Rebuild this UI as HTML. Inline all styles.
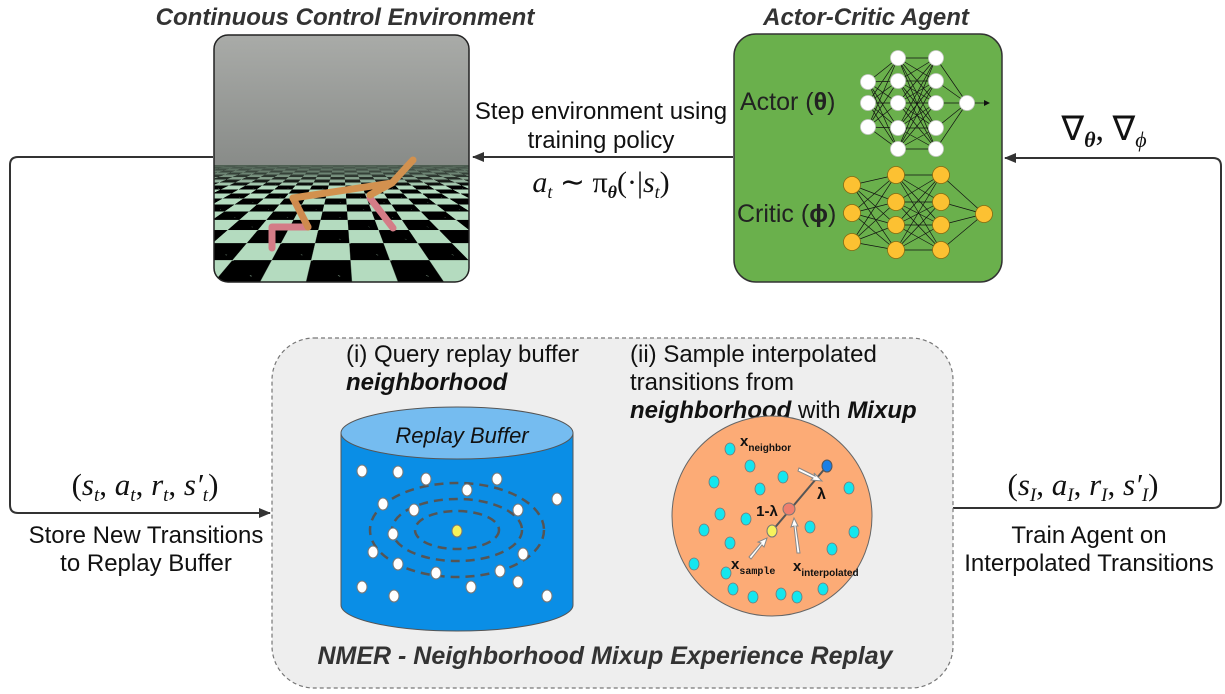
<!DOCTYPE html>
<html><head><meta charset="utf-8">
<style>
html,body{margin:0;padding:0;background:#fff;}
#wrap{position:relative;width:1225px;height:694px;overflow:hidden;font-family:"Liberation Sans",sans-serif;}
#env{position:absolute;left:214px;top:35px;width:255px;height:247px;border-radius:14px;overflow:hidden;background:linear-gradient(#a9aba8,#8a8d8a 50%,#6d716d);}
#floor{position:absolute;left:0;top:130px;width:255px;height:117px;perspective:260px;perspective-origin:50% -25px;overflow:hidden;background:#4e5e52;}
#plane{position:absolute;left:-3000px;width:6255px;height:4000px;bottom:0;transform-origin:50% 100%;transform:rotateX(88deg);
background-color:#b4dbbf;background-image:linear-gradient(45deg,#000 25%,transparent 25%,transparent 75%,#000 75%),linear-gradient(45deg,#000 25%,transparent 25%,transparent 75%,#000 75%);background-size:92px 92px;background-position:10px 0,56px 46px;}
#haze{position:absolute;left:0;top:0;width:255px;height:22px;background:linear-gradient(#4e5e52,rgba(78,94,82,0.6) 50%,rgba(78,94,82,0));}
svg{position:absolute;left:0;top:0;}
</style></head><body>
<div id="wrap">
<div id="env"><div id="floor"><div id="plane"></div><div id="haze"></div></div></div>
<svg width="1225" height="694" viewBox="0 0 1225 694" xmlns="http://www.w3.org/2000/svg" font-family="Liberation Sans, sans-serif">
<defs>
<marker id="ah" markerWidth="12" markerHeight="10" refX="11" refY="5" orient="auto" markerUnits="userSpaceOnUse"><path d="M0,0 L12,5 L0,10 z" fill="#333"/></marker>
<marker id="sa" markerWidth="6" markerHeight="6" refX="5" refY="3" orient="auto" markerUnits="userSpaceOnUse"><path d="M0,0 L6,3 L0,6 z" fill="#111"/></marker>
</defs>
<rect x="214" y="35" width="255" height="247" rx="14" fill="none" stroke="#222" stroke-width="1.5"/>
<g stroke-linecap="round" stroke-linejoin="round" fill="none">
<path d="M308,227 L272,227 L272,248" stroke="#d47c87" stroke-width="7"/>
<path d="M370,198 L393,228" stroke="#d47c87" stroke-width="7"/>
<path d="M293,198 L308,227" stroke="#cf8a4e" stroke-width="7"/>
<path d="M293,198 L392,183 L413,160 M392,183 L370,195" stroke="#d2914f" stroke-width="7"/>
</g>
<text x="345" y="25" text-anchor="middle" font-size="24" font-weight="bold" font-style="italic" fill="#333">Continuous Control Environment</text>
<text x="866" y="25" text-anchor="middle" font-size="24" font-weight="bold" font-style="italic" fill="#333">Actor-Critic Agent</text>
<rect x="734" y="34" width="268" height="248" rx="22" fill="#6ab04c" stroke="#333" stroke-width="1.5"/>
<text x="740" y="110" font-size="25" fill="#222">Actor (<tspan font-weight="bold">θ</tspan>)</text>
<text x="737" y="222" font-size="25" fill="#222">Critic (<tspan font-weight="bold">ϕ</tspan>)</text>
<g stroke="#111" stroke-width="0.7">
<path d="M868,82 L898,58 M868,82 L898,81 M868,82 L898,103 M868,82 L898,128 M868,82 L898,149 M868,103 L898,58 M868,103 L898,81 M868,103 L898,103 M868,103 L898,128 M868,103 L898,149 M868,127 L898,58 M868,127 L898,81 M868,127 L898,103 M868,127 L898,128 M868,127 L898,149"/>
<path d="M898,58 L936,58 M898,58 L936,81 M898,58 L936,103 M898,58 L936,128 M898,58 L936,149 M898,81 L936,58 M898,81 L936,81 M898,81 L936,103 M898,81 L936,128 M898,81 L936,149 M898,103 L936,58 M898,103 L936,81 M898,103 L936,103 M898,103 L936,128 M898,103 L936,149 M898,128 L936,58 M898,128 L936,81 M898,128 L936,103 M898,128 L936,128 M898,128 L936,149 M898,149 L936,58 M898,149 L936,81 M898,149 L936,103 M898,149 L936,128 M898,149 L936,149"/>
<path d="M936,58 L967,103 M936,81 L967,103 M936,103 L967,103 M936,128 L967,103 M936,149 L967,103"/>
<path d="M967,103 L989,103" marker-end="url(#sa)"/>
<path d="M852,185 L896,175 M852,185 L896,202 M852,185 L896,225 M852,185 L896,250 M852,213 L896,175 M852,213 L896,202 M852,213 L896,225 M852,213 L896,250 M852,242 L896,175 M852,242 L896,202 M852,242 L896,225 M852,242 L896,250"/>
<path d="M896,175 L941,175 M896,175 L941,202 M896,175 L941,225 M896,175 L941,250 M896,202 L941,175 M896,202 L941,202 M896,202 L941,225 M896,202 L941,250 M896,225 L941,175 M896,225 L941,202 M896,225 L941,225 M896,225 L941,250 M896,250 L941,175 M896,250 L941,202 M896,250 L941,225 M896,250 L941,250"/>
<path d="M941,175 L984,214 M941,202 L984,214 M941,225 L984,214 M941,250 L984,214"/>
</g>
<g fill="#fff" stroke="#ccc" stroke-width="0.8">
<circle cx="868" cy="82" r="7.5"/><circle cx="868" cy="103" r="7.5"/><circle cx="868" cy="127" r="7.5"/>
<circle cx="898" cy="58" r="7.5"/><circle cx="898" cy="81" r="7.5"/><circle cx="898" cy="103" r="7.5"/><circle cx="898" cy="128" r="7.5"/><circle cx="898" cy="149" r="7.5"/>
<circle cx="936" cy="58" r="7.5"/><circle cx="936" cy="81" r="7.5"/><circle cx="936" cy="103" r="7.5"/><circle cx="936" cy="128" r="7.5"/><circle cx="936" cy="149" r="7.5"/>
<circle cx="967" cy="103" r="7.5"/>
</g>
<g fill="#fcc132" stroke="#8a6a10" stroke-width="0.8">
<circle cx="852" cy="185" r="8.5"/><circle cx="852" cy="213" r="8.5"/><circle cx="852" cy="242" r="8.5"/>
<circle cx="896" cy="175" r="8.5"/><circle cx="896" cy="202" r="8.5"/><circle cx="896" cy="225" r="8.5"/><circle cx="896" cy="250" r="8.5"/>
<circle cx="941" cy="175" r="8.5"/><circle cx="941" cy="202" r="8.5"/><circle cx="941" cy="225" r="8.5"/><circle cx="941" cy="250" r="8.5"/>
<circle cx="984" cy="214" r="8.5"/>
</g>
<g stroke="#333" stroke-width="2" fill="none">
<path d="M733,157 L473,157" marker-end="url(#ah)"/>
<path d="M213,157 L18,157 Q10,157 10,165 L10,505 Q10,513 18,513 L270,513" marker-end="url(#ah)"/>
<path d="M810,508 L1213,508 Q1221,508 1221,500 L1221,166 Q1221,158 1213,158 L1005,158" marker-end="url(#ah)"/>
<path d="M576,522 L664,522" marker-end="url(#ah)"/>
</g>
<text x="601" y="119" text-anchor="middle" font-size="24" fill="#111">Step environment using</text>
<text x="601" y="148" text-anchor="middle" font-size="24" fill="#111">training policy</text>
<text x="601" y="192" text-anchor="middle" font-size="30" font-family="Liberation Serif, serif" font-style="italic" fill="#111">a<tspan font-size="18" dy="6">t</tspan><tspan dy="-6" font-style="normal"> ∼ π</tspan><tspan font-size="18" dy="6" font-weight="bold">θ</tspan><tspan dy="-6" font-style="normal">(·|</tspan>s<tspan font-size="18" dy="6">t</tspan><tspan dy="-6" font-style="normal">)</tspan></text>
<text x="1104" y="140" text-anchor="middle" font-size="34" font-family="Liberation Serif, serif" fill="#111">∇<tspan font-size="22" dy="7" font-weight="bold" font-style="italic">θ</tspan><tspan dy="-7">, ∇</tspan><tspan font-size="22" dy="7" font-style="italic">ϕ</tspan></text>
<text x="145" y="495" text-anchor="middle" font-size="31" font-family="Liberation Serif, serif" fill="#111">(<tspan font-style="italic">s</tspan><tspan font-size="19" dy="6" font-style="italic">t</tspan><tspan dy="-6">, </tspan><tspan font-style="italic">a</tspan><tspan font-size="19" dy="6" font-style="italic">t</tspan><tspan dy="-6">, </tspan><tspan font-style="italic">r</tspan><tspan font-size="19" dy="6" font-style="italic">t</tspan><tspan dy="-6">, </tspan><tspan font-style="italic">s′</tspan><tspan font-size="19" dy="6" font-style="italic">t</tspan><tspan dy="-6">)</tspan></text>
<text x="146" y="543" text-anchor="middle" font-size="24" fill="#111">Store New Transitions</text>
<text x="146" y="571" text-anchor="middle" font-size="24" fill="#111">to Replay Buffer</text>
<text x="1083" y="495" text-anchor="middle" font-size="31" font-family="Liberation Serif, serif" fill="#111">(<tspan font-style="italic">s</tspan><tspan font-size="19" dy="6" font-style="italic">I</tspan><tspan dy="-6">, </tspan><tspan font-style="italic">a</tspan><tspan font-size="19" dy="6" font-style="italic">I</tspan><tspan dy="-6">, </tspan><tspan font-style="italic">r</tspan><tspan font-size="19" dy="6" font-style="italic">I</tspan><tspan dy="-6">, </tspan><tspan font-style="italic">s′</tspan><tspan font-size="19" dy="6" font-style="italic">I</tspan><tspan dy="-6">)</tspan></text>
<text x="1089" y="543" text-anchor="middle" font-size="24" fill="#111">Train Agent on</text>
<text x="1089" y="571" text-anchor="middle" font-size="24" fill="#111">Interpolated Transitions</text>
<rect x="272" y="338" width="681" height="350" rx="42" fill="#eeeeee" stroke="#777" stroke-width="1.2" stroke-dasharray="4,3"/>
<text x="346" y="362" font-size="24" fill="#111">(i) Query replay buffer</text>
<text x="346" y="390" font-size="24" font-weight="bold" font-style="italic" fill="#111">neighborhood</text>
<text x="630" y="362" font-size="24" fill="#111">(ii) Sample interpolated</text>
<text x="630" y="390" font-size="24" fill="#111">transitions from</text>
<text x="630" y="418" font-size="24" fill="#111"><tspan font-weight="bold" font-style="italic">neighborhood</tspan> with <tspan font-weight="bold" font-style="italic">Mixup</tspan></text>
<text x="605" y="664" text-anchor="middle" font-size="25" font-weight="bold" font-style="italic" fill="#333">NMER - Neighborhood Mixup Experience Replay</text>
<path d="M341,433 L341,605 A116,26 0 0 0 573,605 L573,433 Z" fill="#0a8ee6" stroke="#555" stroke-width="1"/>
<ellipse cx="457" cy="433" rx="116" ry="26" fill="#75bcf0" stroke="#555" stroke-width="1"/>
<text x="462" y="443" text-anchor="middle" font-size="22" font-style="italic" fill="#111">Replay Buffer</text>
<g fill="none" stroke="#555" stroke-width="2.5" stroke-dasharray="9,6">
<ellipse cx="457" cy="530" rx="42" ry="19"/>
<ellipse cx="457" cy="530" rx="65" ry="31"/>
<ellipse cx="457" cy="530" rx="87" ry="47"/>
</g>
<g fill="#fff" stroke="#777" stroke-width="1">
<ellipse cx="362" cy="471" rx="5" ry="6"/><ellipse cx="398" cy="472" rx="5" ry="6"/><ellipse cx="426" cy="479" rx="5" ry="6"/><ellipse cx="497" cy="479" rx="5" ry="6"/><ellipse cx="467" cy="490" rx="5" ry="6"/><ellipse cx="383" cy="504" rx="5" ry="6"/><ellipse cx="414" cy="510" rx="5" ry="6"/><ellipse cx="518" cy="510" rx="5" ry="6"/><ellipse cx="557" cy="499" rx="5" ry="6"/><ellipse cx="393" cy="534" rx="5" ry="6"/><ellipse cx="373" cy="552" rx="5" ry="6"/><ellipse cx="523" cy="554" rx="5" ry="6"/><ellipse cx="398" cy="564" rx="5" ry="6"/><ellipse cx="436" cy="573" rx="5" ry="6"/><ellipse cx="500" cy="571" rx="5" ry="6"/><ellipse cx="518" cy="582" rx="5" ry="6"/><ellipse cx="362" cy="587" rx="5" ry="6"/><ellipse cx="394" cy="596" rx="5" ry="6"/><ellipse cx="471" cy="587" rx="5" ry="6"/><ellipse cx="547" cy="596" rx="5" ry="6"/>
</g>
<ellipse cx="457" cy="531" rx="5" ry="6" fill="#f5f25a" stroke="#777"/>
<circle cx="772" cy="516" r="100" fill="#fcab76" stroke="#666" stroke-width="1"/>
<g fill="#14e6ee" stroke="#777" stroke-width="0.8">
<ellipse cx="730" cy="449" rx="5" ry="6"/><ellipse cx="750" cy="466" rx="5" ry="6"/><ellipse cx="714" cy="482" rx="5" ry="6"/><ellipse cx="783" cy="477" rx="5" ry="6"/><ellipse cx="760" cy="489" rx="5" ry="6"/><ellipse cx="849" cy="488" rx="5" ry="6"/><ellipse cx="720" cy="514" rx="5" ry="6"/><ellipse cx="746" cy="519" rx="5" ry="6"/><ellipse cx="704" cy="530" rx="5" ry="6"/><ellipse cx="730" cy="543" rx="5" ry="6"/><ellipse cx="810" cy="527" rx="5" ry="6"/><ellipse cx="854" cy="532" rx="5" ry="6"/><ellipse cx="832" cy="549" rx="5" ry="6"/><ellipse cx="694" cy="564" rx="5" ry="6"/><ellipse cx="726" cy="573" rx="5" ry="6"/><ellipse cx="733" cy="589" rx="5" ry="6"/><ellipse cx="753" cy="597" rx="5" ry="6"/><ellipse cx="781" cy="594" rx="5" ry="6"/><ellipse cx="797" cy="597" rx="5" ry="6"/><ellipse cx="823" cy="589" rx="5" ry="6"/>
</g>
<path d="M772,531 L827,466" stroke="#555" stroke-width="2"/>
<g fill="#fff" stroke="#888" stroke-width="1">
<path d="M799,468 L815,476 L814,473 L822,481 L811,480 L813,478 L798,471 Z"/>
<path d="M749,557 L761,543 L758,542 L767,538 L764,547 L762,545 L751,559 Z"/>
<path d="M797,553 L794,526 L791,527 L794,518 L798,526 L796,526 L800,553 Z"/>
</g>
<ellipse cx="827" cy="466" rx="5" ry="6" fill="#1a7fe6" stroke="#555"/>
<ellipse cx="789" cy="509" rx="6" ry="6" fill="#ef7f6e" stroke="#777"/>
<ellipse cx="772" cy="531" rx="5" ry="6" fill="#f6f25c" stroke="#777"/>
<text x="740" y="446" font-size="15" font-weight="bold" fill="#111">x<tspan font-size="10" dy="5">neighbor</tspan></text>
<text x="817" y="499" font-size="16" font-weight="bold" fill="#111">λ</text>
<text x="767" y="516" text-anchor="middle" font-size="15" font-weight="bold" fill="#111">1-λ</text>
<text x="731" y="569" font-size="15" font-weight="bold" fill="#111">x<tspan font-size="10" dy="5" font-family="Liberation Mono, monospace">sample</tspan></text>
<text x="793" y="571" font-size="15" font-weight="bold" fill="#111">x<tspan font-size="10" dy="5">interpolated</tspan></text>
</svg>
</div>
</body></html>
